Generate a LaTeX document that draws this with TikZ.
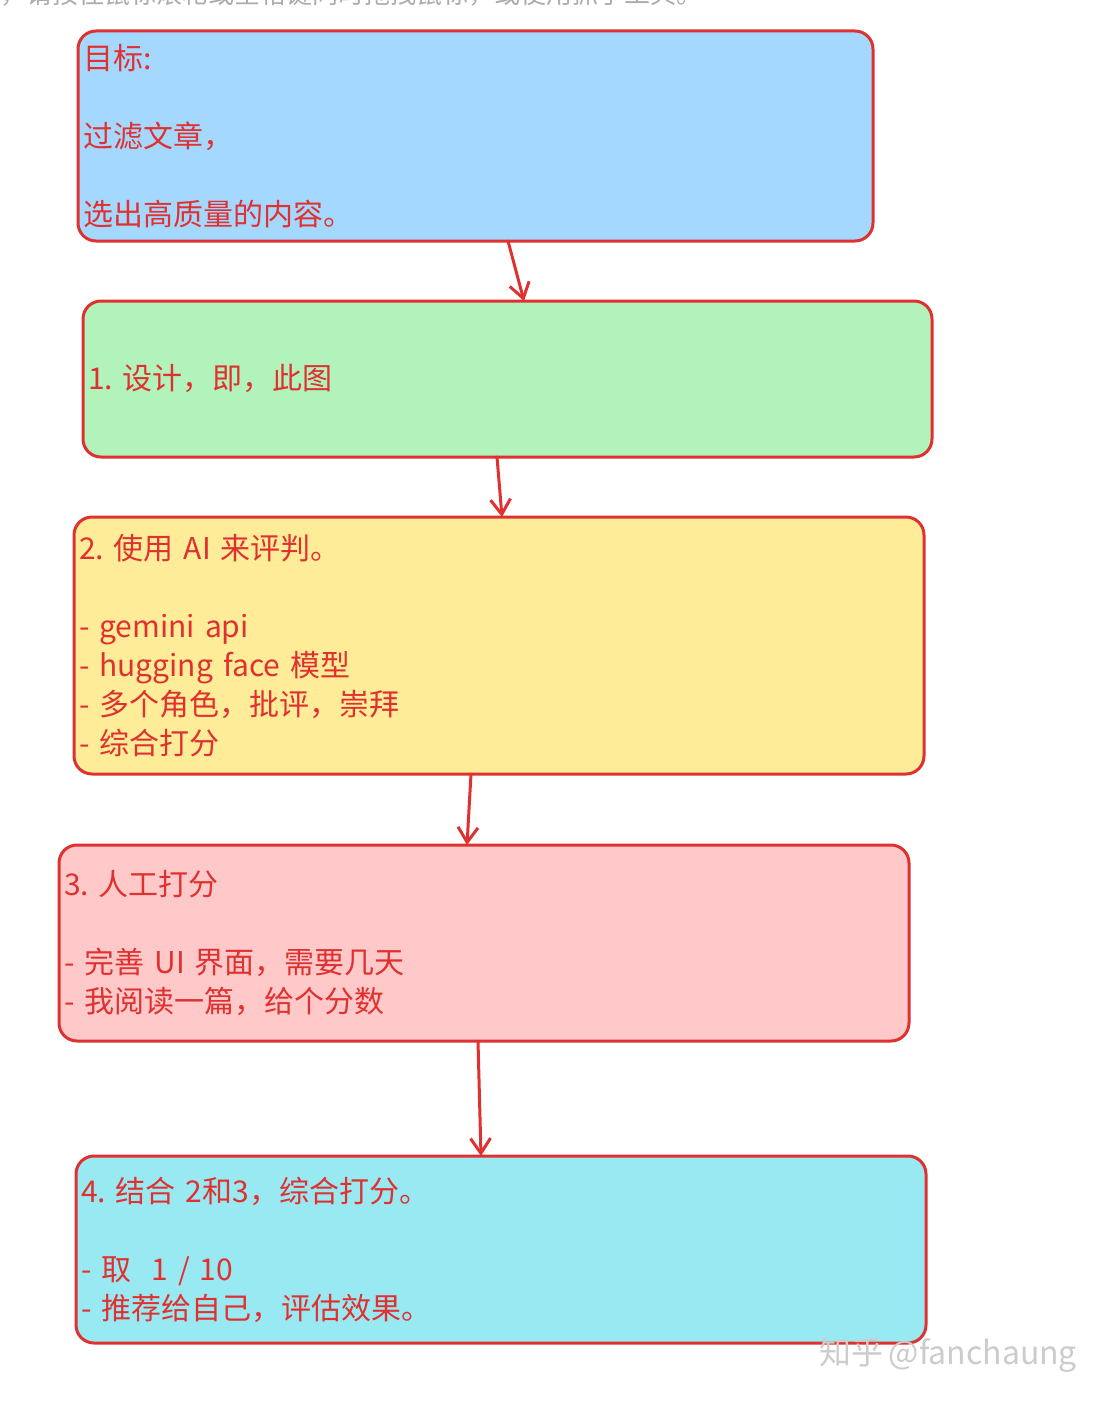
\documentclass[tikz,border=0pt]{standalone}
\usepackage{fontspec}
\newfontfamily\cjk[WordSpace=0.8]{Noto Sans CJK SC}
\usetikzlibrary{positioning,arrows.meta}
\definecolor{PenRed}{HTML}{E03131}
\definecolor{SkyFill}{HTML}{A5D8FF}
\definecolor{MintFill}{HTML}{B2F2BB}
\definecolor{SandFill}{HTML}{FFEC99}
\definecolor{RoseFill}{HTML}{FFC9C9}
\definecolor{AquaFill}{HTML}{99E9F2}
\frenchspacing

\begin{document}
\begin{tikzpicture}[
  x=1pt, y=-1pt,
  card/.style = {draw=PenRed, line width=3pt, rounded corners=18pt,
                 text=PenRed, align=left, inner xsep=5pt, inner ysep=0pt,
                 outer sep=0pt, font=\cjk\fontsize{30}{39}\selectfont},
  arr/.style  = {-{Straight Barb[length=15pt,width=20pt]}, line width=3pt,
                 PenRed, line cap=round},
  note/.style = {font=\cjk\fontsize{26}{30}\selectfont, text=gray!65},
  node distance=60pt
]
  \useasboundingbox[fill=white] (0,0) rectangle (1110,1405);

  % hint line cut off at the top edge
  \begin{scope}
    \clip (0,0) rectangle (1110,40);
    \node[note, anchor=base west, inner sep=0pt] (hint) at (0,4)
      {，请按住鼠标滚轮或空格键同时拖拽鼠标，或使用抓手工具。};
  \end{scope}

  \node[card, fill=SkyFill, text width=785pt, minimum height=210pt] (goal) at (475.5,136)
    {目标:\\[39pt]过滤文章，\\[39pt]选出高质量的内容。};
  \node[card, fill=MintFill, text width=839pt, minimum height=156pt,
        below=60pt of goal, xshift=32pt] (design)
    {1. 设计，即，此图};
  \node[card, fill=SandFill, text width=840pt, minimum height=257pt,
        below=60pt of design, xshift=-8.5pt] (judge)
    {2. 使用 AI 来评判。\\[39pt]- gemini api\\- hugging face 模型\\- 多个角色，批评，崇拜\\- 综合打分};
  \node[card, fill=RoseFill, text width=840pt, minimum height=196pt,
        below=71pt of judge, xshift=-15pt] (manual)
    {3. 人工打分\\[39pt]- 完善 UI 界面，需要几天\\- 我阅读一篇，给个分数};
  \node[card, fill=AquaFill, text width=840pt, minimum height=187pt,
        below=115pt of manual, xshift=17pt] (merge)
    {4. 结合 2和3，综合打分。\\[39pt]- 取\ \ 1 / 10\\- 推荐给自己，评估效果。};

  \draw[arr] ([xshift=32.5pt]goal.south)  -- ([xshift=16.5pt]design.north);
  \draw[arr] ([xshift=-10.5pt]design.south) -- ([xshift=3pt]judge.north);
  \draw[arr] ([xshift=-28pt]judge.south)  -- ([xshift=-17pt]manual.north);
  \draw[arr] ([xshift=-6pt]manual.south)  -- ([xshift=-20pt]merge.north);

  % watermark
  \node[note, font=\cjk\fontsize{32}{36}\selectfont, text=gray!40] (mark) at (948,1355)
    {知乎 @fanchaung};
\end{tikzpicture}
\end{document}
